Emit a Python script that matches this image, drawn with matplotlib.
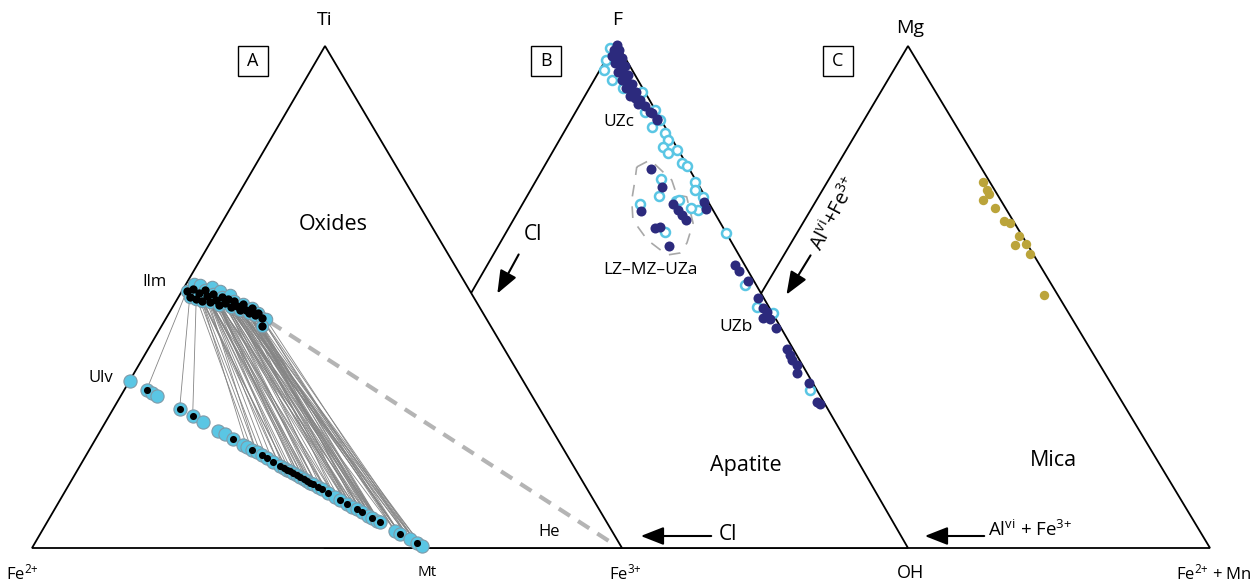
import numpy as np
import matplotlib.pyplot as plt
from matplotlib.patches import Polygon, Rectangle, FancyArrowPatch

plt.rcParams['font.family'] = ['Open Sans', 'DejaVu Sans']
plt.rcParams['mathtext.default'] = 'regular'

# ---- A: Fe-Ti oxides, fractions of Ti and Fe3+ (Fe2+ is the rest)
ilm_ti = [0.512, 0.500, 0.516, 0.526, 0.496, 0.508, 0.524, 0.492, 0.514, 0.502, 0.490,
          0.520, 0.506, 0.494, 0.484, 0.512, 0.500, 0.488, 0.496, 0.504, 0.480, 0.492,
          0.482, 0.474, 0.486, 0.474, 0.468, 0.478, 0.464, 0.468, 0.458, 0.456, 0.442]
ilm_fe3 = [0.008, 0.019, 0.017, 0.013, 0.032, 0.031, 0.025, 0.044, 0.038, 0.047, 0.058,
           0.047, 0.055, 0.067, 0.077, 0.064, 0.074, 0.085, 0.086, 0.085, 0.099, 0.098,
           0.108, 0.117, 0.116, 0.127, 0.135, 0.135, 0.147, 0.151, 0.162, 0.170, 0.170]
ilm_dot = [1, 1, 1, 0, 1, 1, 0, 1, 1, 1, 1, 0, 1, 1, 1, 0, 1, 1, 1, 0, 1, 1, 1, 1, 1, 1,
           1, 1, 1, 1, 1, 0, 1]

# magnetite-ulvospinel solid solution, ulvospinel fraction
mt_usp = [1.0, 0.943, 0.926, 0.906, 0.831, 0.787, 0.753, 0.702, 0.679, 0.652, 0.618,
          0.604, 0.587, 0.571, 0.554, 0.537, 0.516, 0.493, 0.479, 0.469, 0.459, 0.448,
          0.435, 0.425, 0.411, 0.401, 0.391, 0.381, 0.364, 0.350, 0.330, 0.306, 0.289,
          0.265, 0.248, 0.232, 0.215, 0.194, 0.181, 0.164, 0.154, 0.103, 0.086, 0.052,
          0.028, 0.011]
mt_dot = [0, 1, 0, 0, 1, 1, 0, 0, 0, 1, 0, 0, 1, 0, 1, 1, 1, 1, 1, 1, 1, 1, 1, 1, 1, 1,
          1, 1, 1, 1, 1, 0, 1, 1, 0, 1, 1, 0, 1, 0, 1, 0, 1, 0, 1, 0]

# coexisting ilmenite-magnetite pairs (indices)
tie_ilm = [0, 1, 4, 7, 7, 9, 10, 10, 12, 13, 13, 14, 14, 16, 16, 17, 17, 18, 18, 20,
           20, 21, 21, 22, 22, 23, 23, 24, 24, 25, 25, 26, 26, 27, 27, 28, 28, 29, 30, 31,
           9, 12, 5, 8, 11, 15, 19, 6, 3, 2, 15, 19, 11, 8, 6,
           5, 8, 9, 10, 12, 13, 14, 16, 17, 18, 20, 21, 22, 23, 24, 25, 26, 27, 28, 29,
           7, 9, 12, 14, 16, 18, 20, 22, 24, 26]
tie_mt = [1, 4, 5, 11, 14, 16, 17, 20, 18, 22, 26, 24, 30, 28, 33, 27, 35, 32, 38, 36,
          40, 29, 42, 34, 44, 38, 43, 31, 40, 36, 42, 41, 44, 35, 39, 40, 43, 42, 44, 43,
          21, 25, 19, 23, 28, 30, 33, 15, 13, 12, 37, 39, 34, 31, 26,
          17, 24, 27, 30, 33, 35, 37, 39, 41, 43, 44, 45, 42, 40, 38, 37, 36, 33, 38, 41,
          19, 13, 23, 28, 31, 36, 34, 39, 42, 45]

# ilmenite - hematite trend (Ti, Fe3+)
hem_ti = [0.450, 0.010]
hem_fe3 = [0.180, 0.978]

# ---- B: apatite, fractions of F and Cl (OH is the rest)
ap_fill_F = [0.994, 0.984, 0.984, 0.972, 0.970, 0.968, 0.958, 0.955, 0.953, 0.941, 0.937,
             0.935, 0.925, 0.921, 0.917, 0.909, 0.905, 0.901, 0.893, 0.889, 0.885, 0.877,
             0.874, 0.862, 0.860, 0.848, 0.846, 0.684, 0.670,
             0.749, 0.713, 0.666, 0.680, 0.668, 0.658, 0.648, 0.632, 0.634, 0.597,
             0.559, 0.547, 0.528, 0.494, 0.474, 0.466, 0.455, 0.453, 0.435, 0.393, 0.381,
             0.372, 0.362, 0.346, 0.326, 0.289, 0.285]
ap_fill_Cl = [0.001, 0.011, 0.003, 0.021, 0.013, 0.006, 0.023, 0.016, 0.008, 0.026, 0.020,
              0.012, 0.027, 0.021, 0.014, 0.028, 0.022, 0.015, 0.029, 0.023, 0.016, 0.024,
              0.014, 0.011, 0.008, 0.006, 0.007, 0.007, 0.011,
              0.066, 0.065, 0.124, 0.062, 0.060, 0.058, 0.056, 0.117, 0.108, 0.111,
              0.017, 0.016, 0.010, 0.010, 0.011, 0.008, 0.021, 0.010, 0.009, 0.011, 0.011,
              0.013, 0.009, 0.017, 0.007, 0.011, 0.008]
ap_open_F = [0.988, 0.964, 0.945, 0.925, 0.909, 0.899, 0.901, 0.862, 0.866, 0.846, 0.832,
             0.820, 0.806, 0.792, 0.781, 0.787, 0.761, 0.755, 0.723, 0.708, 0.694, 0.668,
             0.672, 0.623, 0.729, 0.696, 0.680, 0.686, 0.688, 0.625,
             0.520, 0.476, 0.464, 0.312]
ap_open_Cl = [0.016, 0.035, 0.048, 0.044, 0.034, 0.021, 0.005, 0.020, 0.000, 0.002, 0.022,
              0.006, 0.008, 0.023, 0.021, 0.002, 0.007, 0.001, 0.003, 0.011, 0.004, 0.026,
              0.036, 0.000, 0.058, 0.078, 0.119, 0.054, 0.048, 0.104,
              0.019, 0.021, 0.000, 0.012]
# outline of the LZ-MZ-UZa group (F, Cl)
grp_F = [0.753, 0.767, 0.727, 0.698, 0.694, 0.642, 0.603, 0.583, 0.579, 0.609, 0.648,
         0.688, 0.727]
grp_Cl = [0.088, 0.058, 0.041, 0.047, 0.032, 0.047, 0.077, 0.099, 0.123, 0.142, 0.147,
          0.129, 0.104]

# ---- C: mica, fractions of Mg and Al(vi)+Fe3+ (Fe2+ + Mn is the rest)
mica_Mg = [0.729, 0.713, 0.705, 0.693, 0.677, 0.651, 0.647, 0.622, 0.604, 0.606, 0.586,
           0.504]
mica_AlFe = [0.012, 0.012, 0.013, 0.030, 0.018, 0.015, 0.007, 0.006, 0.021, 0.002, 0.005,
             0.023]

# triangle corners in figure pixels: left, right, apex
TRI_A = ((32, 548), (622, 548), (325, 46))
TRI_B = ((324, 548), (908, 548), (616, 42))
TRI_C = ((610, 548), (1210, 548), (908, 46))

CYAN = '#5ac6e4'
NAVY = '#2c2a7d'
GOLD = '#bba43a'


def tern(tri, right, top):
    right = np.asarray(right, float)
    top = np.asarray(top, float)
    left = 1 - right - top
    (lx, ly), (rx, ry), (tx, ty) = tri
    return left * lx + right * rx + top * tx, left * ly + right * ry + top * ty


fig = plt.figure(figsize=(12.55, 5.83), dpi=100)
ax = fig.add_axes([0, 0, 1, 1])
ax.set_xlim(0, 1255)
ax.set_ylim(583, 0)
ax.axis('off')

for z, tri in enumerate([TRI_C, TRI_B, TRI_A]):
    ax.add_patch(Polygon(tri, closed=True, facecolor='white', edgecolor='black',
                         lw=1.3, zorder=1 + z, joinstyle='miter'))

# panel A
mt_usp_a = np.array(mt_usp)
mt_ti = mt_usp_a / 3
mt_fe3 = 2 * (1 - mt_usp_a) / 3
ix, iy = tern(TRI_A, ilm_fe3, ilm_ti)
mx, my = tern(TRI_A, mt_fe3, mt_ti)

hx, hy = tern(TRI_A, hem_fe3, hem_ti)
ax.plot(hx, hy, color='#b4b4b4', lw=3, ls=(0, (3.2, 2.3)), zorder=4)

for i, m in zip(tie_ilm, tie_mt):
    ax.plot([ix[i], mx[m]], [iy[i], my[m]], color='#858585', lw=0.6, zorder=5)

ax.scatter(mx, my, s=90, color=CYAN, edgecolor='#7f9aa8', lw=0.8, zorder=6)
ax.scatter(ix, iy, s=80, color=CYAN, edgecolor='#7f9aa8', lw=0.8, zorder=6)
mdot = np.array(mt_dot, bool)
idot = np.array(ilm_dot, bool)
ax.scatter(mx[mdot], my[mdot], s=26, color='black', lw=0, zorder=7)
ax.scatter(ix[idot], iy[idot], s=36, color='black', lw=0, zorder=7)

# panel B
ap_fill_OH = 1 - np.array(ap_fill_F) - np.array(ap_fill_Cl)
ap_open_OH = 1 - np.array(ap_open_F) - np.array(ap_open_Cl)
ox, oy = tern(TRI_B, ap_open_OH, ap_open_F)
fx, fy = tern(TRI_B, ap_fill_OH, ap_fill_F)
ax.scatter(ox, oy, s=42, facecolor='white', edgecolor=CYAN, lw=1.8, zorder=6)
ax.scatter(fx, fy, s=52, color=NAVY, lw=0, zorder=7)

grp_OH = 1 - np.array(grp_F) - np.array(grp_Cl)
gx, gy = tern(TRI_B, grp_OH, grp_F)
ax.plot(np.append(gx, gx[0]), np.append(gy, gy[0]), color='#a8a8a8', lw=1.2,
        ls=(0, (7, 6)), zorder=5)

# panel C
mica_Fe = 1 - np.array(mica_Mg) - np.array(mica_AlFe)
cx, cy = tern(TRI_C, mica_Fe, mica_Mg)
ax.scatter(cx, cy, s=46, color=GOLD, lw=0, zorder=6)


def arrow(p0, p1):
    ax.add_patch(FancyArrowPatch(p0, p1, arrowstyle='-|>,head_length=14,head_width=5.5',
                                 mutation_scale=1, color='black', lw=1.5, zorder=9))


arrow((520, 252), (496, 296))
arrow((714, 536), (638, 536))
arrow((812, 253), (785, 297))
arrow((987, 536), (922, 536))

# boxes with panel letters
for cx_box, letter in [(253, 'A'), (546, 'B'), (838, 'C')]:
    ax.add_patch(Rectangle((cx_box - 15, 46), 30, 30, facecolor='white',
                           edgecolor='black', lw=1.0, zorder=9))
    ax.text(cx_box, 61, letter, ha='center', va='center', fontsize=13, zorder=10)

txt = dict(ha='center', va='center', zorder=10)
ax.text(325, 20, 'Ti', fontsize=14, **txt)
ax.text(617, 20, 'F', fontsize=14, **txt)
ax.text(910, 28, 'Mg', fontsize=14, **txt)
ax.text(22, 573, 'Fe$^{2{+}}$', fontsize=12, **txt)
ax.text(427, 573, 'Mt', fontsize=11, **txt)
ax.text(625, 573, 'Fe$^{3{+}}$', fontsize=12, **txt)
ax.text(910, 573, 'OH', fontsize=13, **txt)
ax.text(1252, 573, 'Fe$^{2{+}}$ + Mn', fontsize=12, ha='right', va='center', zorder=10)

ax.text(155, 282, 'Ilm', fontsize=12, **txt)
ax.text(101, 378, 'Ulv', fontsize=12, **txt)
ax.text(549, 532, 'He', fontsize=12, **txt)
ax.text(333, 225, 'Oxides', fontsize=15.5, **txt)
ax.text(746, 466, 'Apatite', fontsize=15.5, **txt)
ax.text(1053, 460, 'Mica', fontsize=15.5, **txt)

ax.text(533, 234, 'Cl', fontsize=15, **txt)
ax.text(728, 535, 'Cl', fontsize=15, **txt)
ax.text(835, 214, 'Al$^{vi}$+Fe$^{3{+}}$', fontsize=14.5, rotation=62, **txt)
ax.text(1030, 530, 'Al$^{vi}$ + Fe$^{3{+}}$', fontsize=13.5, **txt)

ax.text(619, 122, 'UZc', fontsize=12.5, **txt)
ax.text(650, 270, 'LZ\u2013MZ\u2013UZa', fontsize=12.5, **txt)
ax.text(736, 327, 'UZb', fontsize=12.5, **txt)

fig.savefig('out.png', dpi=100, facecolor='white')
